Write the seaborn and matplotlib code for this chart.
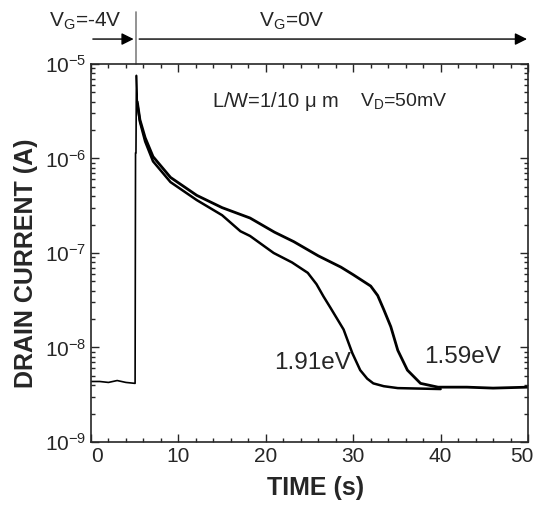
import numpy as np
import pandas as pd
import matplotlib.pyplot as plt
import matplotlib.transforms as mtransforms
import seaborn as sns

# values (time in s, log10 of drain current in A)
t_pre = [0.0, 1.0, 2.0, 3.0, 4.0, 5.05, 5.1, 5.15, 5.2, 5.3]
logi_pre = [-8.36, -8.36, -8.37, -8.35, -8.37, -8.38, -5.94, -5.94, -5.12, -5.4]

t_159 = [5.3, 5.6, 6.2, 7.1, 9.1, 12.1, 15.0, 18.2, 21.0, 23.2, 26.0, 28.6,
         30.0, 31.0, 32.0, 32.8, 33.5, 34.3, 35.1, 36.2, 37.7, 39.7, 43.0,
         46.0, 50.0]
logi_159 = [-5.4, -5.59, -5.78, -5.98, -6.2, -6.39, -6.52, -6.63, -6.78, -6.88,
            -7.03, -7.15, -7.23, -7.29, -7.35, -7.45, -7.6, -7.78, -8.03, -8.24,
            -8.38, -8.42, -8.42, -8.43, -8.42]

t_191 = [5.3, 5.6, 6.2, 7.1, 9.1, 12.1, 15.0, 17.1, 18.2, 20.9, 23.0, 24.8,
         25.8, 26.6, 27.4, 28.9, 29.9, 30.8, 31.6, 32.3, 33.5, 35.1, 40.0]
logi_191 = [-5.42, -5.61, -5.82, -6.03, -6.25, -6.44, -6.6, -6.77, -6.82, -7.0,
            -7.1, -7.21, -7.33, -7.46, -7.58, -7.81, -8.06, -8.24, -8.33, -8.38,
            -8.41, -8.43, -8.44]

x_ticks = [0, 10, 20, 30, 40, 50]
y_ticks = [1e-9, 1e-8, 1e-7, 1e-6, 1e-5]
y_ticklabels = ['10$^{-9}$', '10$^{-8}$', '10$^{-7}$', '10$^{-6}$', '10$^{-5}$']

sns.set_style('ticks')
plt.rcParams['font.family'] = ['Liberation Sans', 'DejaVu Sans']
plt.rcParams['mathtext.default'] = 'regular'

fig = plt.figure(figsize=(5.35, 5.08), dpi=100)
ax = fig.add_axes([0.170, 0.130, 0.817, 0.744])

pre = pd.DataFrame({'t': t_pre, 'I': 10 ** np.array(logi_pre)})
c159 = pd.DataFrame({'t': t_159, 'I': 10 ** np.array(logi_159)})
c191 = pd.DataFrame({'t': t_191, 'I': 10 ** np.array(logi_191)})

sns.lineplot(data=pre, x='t', y='I', ax=ax, color='black', lw=1.2,
             estimator=None, sort=False)
sns.lineplot(data=c159, x='t', y='I', ax=ax, color='black', lw=2.0,
             estimator=None, sort=False)
sns.lineplot(data=c191, x='t', y='I', ax=ax, color='black', lw=1.8,
             estimator=None, sort=False)

ax.set_yscale('log')
ax.set_xlim(0, 50)
ax.set_ylim(1e-9, 1e-5)
ax.set_xticks(x_ticks)
ax.set_xticks(np.arange(0, 51, 2), minor=True)
ax.set_yticks(y_ticks)
ax.set_yticklabels(y_ticklabels)
ax.tick_params(which='both', direction='in', top=True, right=True, labelsize=15)
ax.tick_params(which='major', length=6, width=1)
ax.tick_params(which='minor', length=3, width=1)
for s in ax.spines.values():
    s.set_linewidth(1.2)

# first and last x labels sit a little inward, as in the reference
xl = ax.get_xticklabels()
xl[0].set_transform(xl[0].get_transform() + mtransforms.ScaledTranslation(6 / 100, 0, fig.dpi_scale_trans))
xl[-1].set_transform(xl[-1].get_transform() + mtransforms.ScaledTranslation(-6 / 100, 0, fig.dpi_scale_trans))

ax.set_xlabel('TIME (s)', fontsize=18, fontweight='bold', labelpad=10)
ax.set_ylabel('DRAIN CURRENT (A)', fontsize=18, fontweight='bold')
ax.xaxis.set_label_coords(0.513, -0.09)
ax.yaxis.set_label_coords(-0.12, 0.474)

# gate bias arrows above the axes
tr = ax.get_xaxis_transform()
ax.annotate('', xy=(5.2, 1.066), xytext=(-0.1, 1.066), xycoords=tr, textcoords=tr,
            arrowprops=dict(arrowstyle='-|>', color='black', lw=1, mutation_scale=18),
            annotation_clip=False)
ax.annotate('', xy=(50.2, 1.066), xytext=(5.2, 1.066), xycoords=tr, textcoords=tr,
            arrowprops=dict(arrowstyle='-|>', color='black', lw=1, mutation_scale=18),
            annotation_clip=False)
ax.plot([5.2, 5.2], [1.0, 1.138], transform=tr, color='gray', lw=1.2, clip_on=False)
ax.text(-0.6, 1.085, 'V$_G$=-4V', transform=tr, ha='center', va='bottom', fontsize=15)
ax.text(23.0, 1.085, 'V$_G$=0V', transform=tr, ha='center', va='bottom', fontsize=15)

ax.text(13.9, 10 ** -5.40, 'L/W=1/10 $\\mu$ m', ha='left', va='center', fontsize=14.5)
ax.text(30.8, 10 ** -5.39, 'V$_D$=50mV', ha='left', va='center', fontsize=14)
ax.text(20.9, 10 ** -8.16, '1.91eV', ha='left', va='center', fontsize=17.5)
ax.text(38.1, 10 ** -8.10, '1.59eV', ha='left', va='center', fontsize=17.5)

fig.savefig('out.png', dpi=100)
